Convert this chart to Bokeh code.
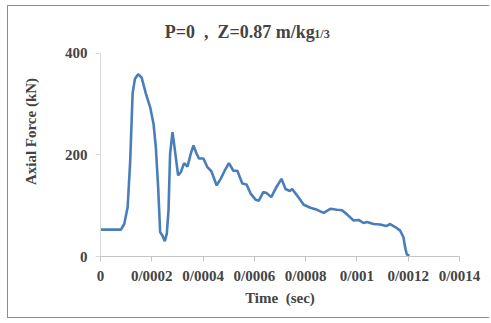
from bokeh.plotting import figure
from bokeh.models import FixedTicker, Label, Range1d
from bokeh.embed import file_html
from bokeh.resources import INLINE

# Axial force history
time_s = [0.0, 0.0000797, 0.0000926, 0.0001058, 0.0001159, 0.0001252, 0.0001342,
          0.000147, 0.0001602, 0.000177, 0.0001937, 0.0002069, 0.0002158, 0.0002248,
          0.0002326, 0.0002419, 0.0002508, 0.0002586, 0.0002652, 0.0002714, 0.0002808,
          0.000287, 0.0003026, 0.0003131, 0.0003259, 0.0003391, 0.0003519, 0.0003624,
          0.0003753, 0.0003842, 0.0004013, 0.0004169, 0.0004324, 0.0004531, 0.0004686,
          0.0004842, 0.0005009, 0.000518, 0.0005336, 0.000553, 0.0005697, 0.0005853,
          0.0006047, 0.0006176, 0.0006347, 0.0006475, 0.0006658, 0.0006864, 0.0007058,
          0.0007214, 0.0007381, 0.0007475, 0.0007669, 0.0007926, 0.0008186, 0.0008447,
          0.0008704, 0.0008964, 0.0009224, 0.0009419, 0.0009613, 0.000987, 0.0010064,
          0.0010259, 0.0010391, 0.0010648, 0.0010908, 0.0011142, 0.0011297, 0.0011492,
          0.0011686, 0.0011814, 0.001188, 0.0011946, 0.0012047]
force_kn = [53, 53, 64, 97, 189, 321, 350,
            359, 353, 321, 294, 261, 215, 137,
            48, 41, 30, 45, 91, 202, 245,
            222, 160, 166, 184, 177, 202, 219,
            202, 193, 193, 176, 168, 140, 153,
            169, 184, 169, 169, 144, 142, 124,
            112, 110, 127, 125, 117, 137, 153,
            133, 129, 133, 120, 102, 96, 92,
            86, 94, 92, 91, 83, 71, 72,
            66, 68, 64, 63, 60, 64, 58,
            51, 38, 18, 4, 1]

x_ticks = [0, 0.0002, 0.0004, 0.0006, 0.0008, 0.001, 0.0012, 0.0014]
x_tick_labels = ["0", "0/0002", "0/0004", "0/0006", "0/0008", "0/001", "0/0012", "0/0014"]
y_ticks = [0, 200, 400]

NB = "\u00a0"
title_main = "P=0" + NB * 2 + "," + NB * 2 + "Z=0.87 m/kg"
title_sub = "1/3"

FONT = "Liberation Serif"

p = figure(width=482, height=313, output_backend="svg", toolbar_location=None,
           x_range=Range1d(0, 0.0014), y_range=Range1d(0, 492.6),
           min_border_left=92, min_border_right=31, min_border_top=0,
           min_border_bottom=63)
p.styles = {"border-left": "1px solid #8c8c8c", "border-top": "1px solid #8c8c8c",
            "border-bottom": "1px solid #8c8c8c", "margin-left": "7px",
            "margin-top": "5px"}

p.line(time_s, force_kn, line_color="#4a7ebb", line_width=2.6)

p.grid.visible = False
p.outline_line_color = None
p.background_fill_color = "white"
p.border_fill_color = "white"

xa = p.xaxis[0]
xa.ticker = FixedTicker(ticks=x_ticks)
xa.major_label_overrides = {t: lab for t, lab in zip(x_ticks, x_tick_labels)}
xa.minor_tick_line_color = None
xa.axis_line_color = "#c4c4c4"
xa.major_tick_line_color = "#c4c4c4"
xa.major_tick_out = 5
xa.major_tick_in = 0
xa.major_label_standoff = 6
xa.major_label_text_font = FONT
xa.major_label_text_font_style = "bold"
xa.major_label_text_font_size = "15px"
xa.axis_label = "Time" + NB * 2 + "(sec)"
xa.axis_label_text_font = FONT
xa.axis_label_text_font_style = "bold"
xa.axis_label_text_font_size = "15px"
xa.axis_label_standoff = 3

ya = p.yaxis[0]
ya.ticker = FixedTicker(ticks=y_ticks)
ya.bounds = (0, 400)
ya.minor_tick_line_color = None
ya.axis_line_color = "#d9d9d9"
ya.major_tick_line_color = "#d9d9d9"
ya.major_tick_out = 5
ya.major_tick_in = 0
ya.major_label_standoff = 8
ya.major_label_text_font = FONT
ya.major_label_text_font_style = "bold"
ya.major_label_text_font_size = "15px"
ya.axis_label = "Axial Force (kN)"
ya.axis_label_text_font = FONT
ya.axis_label_text_font_style = "bold"
ya.axis_label_text_font_size = "15px"
ya.axis_label_standoff = 23

p.add_layout(Label(x=0.0002508, y=442, text=title_main, text_font=FONT,
                   text_font_style="bold", text_font_size="18px",
                   text_baseline="alphabetic", text_align="left"))
p.add_layout(Label(x=0.000834, y=439, text=title_sub, text_font=FONT,
                   text_font_style="bold", text_font_size="12px",
                   text_baseline="alphabetic", text_align="left"))

open("out.html", "w").write(file_html(p, INLINE))
